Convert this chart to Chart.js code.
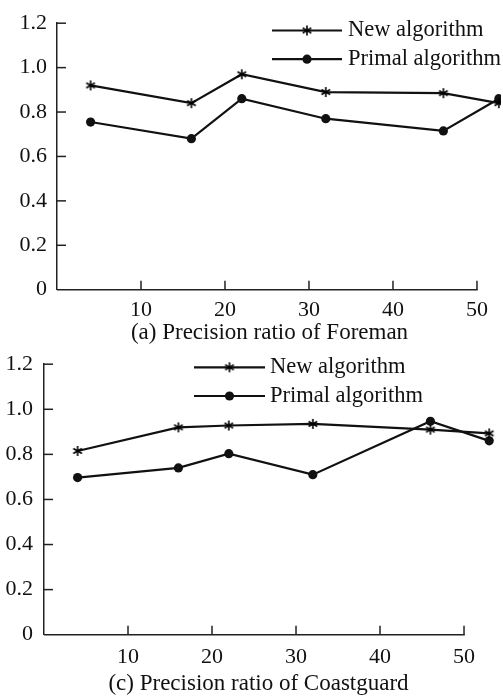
<!DOCTYPE html>
<html>
<head>
<meta charset="utf-8">
<script src="https://cdn.jsdelivr.net/npm/chart.js@4.4.1/dist/chart.umd.min.js"></script>
<style>
  body { margin: 0; background: #fff; }
  #wrap { position: relative; width: 503px; height: 696px; overflow: hidden; }
  canvas { position: absolute; left: 0; }
  #chartForeman { top: 0; }
  #chartCoast { top: 340px; }
</style>
</head>
<body>
<div id="wrap">
  <canvas id="chartForeman" width="503" height="350"></canvas>
  <canvas id="chartCoast" width="503" height="356"></canvas>
</div>
<script>
// values
const framesForeman = [4, 16, 22, 32, 46, 52.6];
const newForeman = [0.92, 0.84, 0.97, 0.89, 0.885, 0.84];
const primalForeman = [0.755, 0.68, 0.86, 0.77, 0.715, 0.86];

const framesCoast = [4, 16, 22, 32, 46, 53];
const newCoast = [0.815, 0.92, 0.928, 0.935, 0.91, 0.893];
const primalCoast = [0.697, 0.74, 0.803, 0.71, 0.947, 0.86];

const seriesNames = ["New algorithm", "Primal algorithm"];
const xTicks = [10, 20, 30, 40, 50];
const yTicks = [0, 0.2, 0.4, 0.6, 0.8, 1.0, 1.2];
const yTickLabels = ["0", "0.2", "0.4", "0.6", "0.8", "1.0", "1.2"];

const ink = "#111";
const axisColor = "#222";
const serif = "'Liberation Serif', 'DejaVu Serif', serif";

Chart.defaults.font.family = serif;
Chart.defaults.font.size = 22;
Chart.defaults.color = ink;

// asterisk marker (6 spokes) like the "*" in the figure
function makeAsterisk(r) {
    const c = document.createElement("canvas");
    c.width = c.height = 2 * r + 2;
    const g = c.getContext("2d");
    const m = r + 1;
    g.strokeStyle = "#000";
    g.lineWidth = 1.6;
    for (let k = 0; k < 3; k++) {
        const a = Math.PI / 2 + k * Math.PI / 3;
        g.beginPath();
        g.moveTo(m + r * Math.cos(a), m + r * Math.sin(a));
        g.lineTo(m - r * Math.cos(a), m - r * Math.sin(a));
        g.stroke();
    }
    return c;
}
const starMark = makeAsterisk(5);

// x axis line (0..50 only) and ticks pointing into the plot
const innerTicks = {
    id: "innerTicks",
    beforeDatasetsDraw(chart) {
        const {ctx, chartArea, scales} = chart;
        const x = scales.x, y = scales.y;
        ctx.save();
        ctx.strokeStyle = axisColor;
        ctx.lineWidth = 1.5;
        ctx.beginPath();
        ctx.moveTo(x.getPixelForValue(0), chartArea.bottom);
        ctx.lineTo(x.getPixelForValue(xTicks[xTicks.length - 1]) + 0.75, chartArea.bottom);
        ctx.stroke();
        x.ticks.forEach(t => {
            const px = x.getPixelForValue(t.value);
            ctx.beginPath();
            ctx.moveTo(px, chartArea.bottom);
            ctx.lineTo(px, chartArea.bottom - 9);
            ctx.stroke();
        });
        y.ticks.forEach(t => {
            if (t.value === 0) return;
            const py = y.getPixelForValue(t.value);
            ctx.beginPath();
            ctx.moveTo(chartArea.left, py);
            ctx.lineTo(chartArea.left + 9, py);
            ctx.stroke();
        });
        ctx.restore();
    }
};

// legend: line with marker in the middle, text to the right
const lineKey = {
    id: "lineKey",
    afterDraw(chart, args, opts) {
        const ctx = chart.ctx;
        ctx.save();
        chart.data.datasets.forEach((ds, i) => {
            const y = opts.y + i * opts.spacing;
            ctx.strokeStyle = ds.borderColor;
            ctx.lineWidth = ds.borderWidth;
            ctx.beginPath();
            ctx.moveTo(opts.x, y);
            ctx.lineTo(opts.x + opts.len, y);
            ctx.stroke();
            const mx = opts.x + opts.len / 2;
            if (ds.pointStyle instanceof HTMLCanvasElement) {
                ctx.drawImage(ds.pointStyle, mx - ds.pointStyle.width / 2, y - ds.pointStyle.height / 2);
            } else {
                ctx.fillStyle = ds.pointBackgroundColor;
                ctx.beginPath();
                ctx.arc(mx, y, ds.pointRadius, 0, Math.PI * 2);
                ctx.fill();
            }
            ctx.fillStyle = ink;
            ctx.font = "22.5px " + serif;
            ctx.textBaseline = "middle";
            ctx.fillText(ds.label, opts.x + opts.len + opts.gap, y);
        });
        ctx.restore();
    }
};

// caption under the x axis
const caption = {
    id: "caption",
    afterDraw(chart, args, opts) {
        const ctx = chart.ctx;
        ctx.save();
        ctx.fillStyle = ink;
        ctx.font = "23px " + serif;
        ctx.textAlign = "center";
        ctx.textBaseline = "middle";
        ctx.fillText(opts.text, opts.x, opts.y);
        ctx.restore();
    }
};

function toPoints(xs, ys) {
    return xs.map((x, i) => ({x: x, y: ys[i]}));
}

function makeChart(id, frames, newVals, primalVals, box) {
    const canvas = document.getElementById(id);
    return new Chart(canvas, {
        type: "line",
        data: {
            datasets: [
                {
                    label: seriesNames[0],
                    data: toPoints(frames, newVals),
                    borderColor: ink,
                    borderWidth: 2.2,
                    pointStyle: starMark,
                    pointRadius: 5
                },
                {
                    label: seriesNames[1],
                    data: toPoints(frames, primalVals),
                    borderColor: ink,
                    borderWidth: 2.2,
                    pointStyle: "circle",
                    pointRadius: 4.6,
                    pointBackgroundColor: ink,
                    pointBorderWidth: 0
                }
            ]
        },
        options: {
            responsive: false,
            animation: false,
            layout: {autoPadding: false, padding: {top: box.top, right: box.right, left: 0, bottom: 0}},
            plugins: {
                legend: {display: false},
                tooltip: {enabled: false},
                lineKey: box.key,
                caption: box.caption
            },
            scales: {
                x: {
                    type: "linear",
                    min: 0,
                    max: box.xMax,
                    afterBuildTicks: s => { s.ticks = xTicks.map(v => ({value: v})); },
                    afterFit: s => { s.height = box.xHeight; },
                    grid: {display: false, drawTicks: false},
                    border: {display: false},
                    ticks: {padding: box.xPad, maxRotation: 0, color: ink}
                },
                y: {
                    min: 0,
                    max: 1.2,
                    afterBuildTicks: s => { s.ticks = yTicks.map(v => ({value: v})); },
                    afterFit: s => { s.width = box.yWidth; },
                    grid: {display: false, drawTicks: false},
                    border: {display: true, color: axisColor, width: 1.5},
                    ticks: {padding: box.yPad, color: ink, callback: (v, i) => yTickLabels[i]}
                }
            }
        },
        plugins: [innerTicks, lineKey, caption]
    });
}

makeChart("chartForeman", framesForeman, newForeman, primalForeman, {
    top: 17, right: 2, xMax: 52.86, xHeight: 60.3, yWidth: 57, yPad: 10, xPad: 7,
    key: {x: 272, y: 30.5, spacing: 28.7, len: 70, gap: 6},
    caption: {text: "(a) Precision ratio of Foreman", x: 269.5, y: 333}
});

makeChart("chartCoast", framesCoast, newCoast, primalCoast, {
    top: 22.7, right: 0, xMax: 54.64, xHeight: 61.3, yWidth: 44, yPad: 11, xPad: 9,
    key: {x: 194, y: 27.3, spacing: 28.7, len: 71, gap: 5},
    caption: {text: "(c) Precision ratio of Coastguard", x: 258.5, y: 344}
});
</script>
</body>
</html>
